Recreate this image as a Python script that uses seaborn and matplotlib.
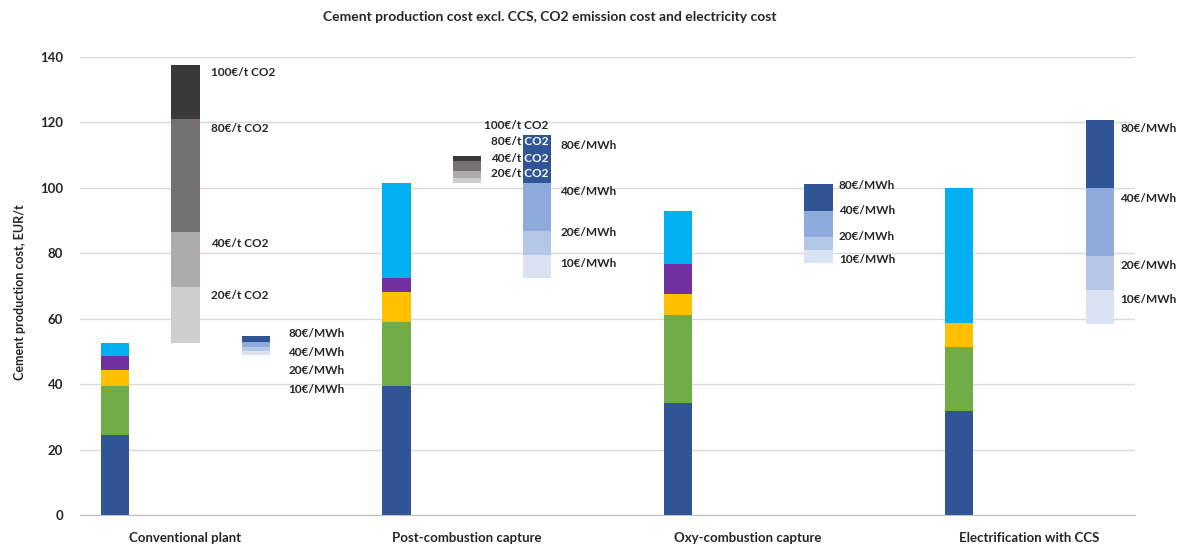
import numpy as np
import matplotlib
matplotlib.use('Agg')
import matplotlib.pyplot as plt
import seaborn as sns

# categories and slot positions on the category axis (15 slots)
categories = ['Conventional plant', 'Post-combustion capture',
              'Oxy-combustion capture', 'Electrification with CCS']
cat_pos = [1, 5, 9, 13]

# stacked production cost bars (EUR/t), one value per route
stack_pos = [0, 4, 8, 12]
seg_blue = [24.3, 39.5, 34.1, 31.9]
seg_green = [15.0, 19.5, 26.9, 19.3]
seg_yellow = [4.9, 9.0, 6.4, 7.3]
seg_purple = [4.5, 4.3, 9.4, 0.0]
seg_cyan = [3.9, 29.2, 16.1, 41.5]

# CO2 emission cost bars: base and top of each price level
co2_pos = [1, 5]
co2_base = [52.6, 101.5]
co2_prices = ['20€/t CO2', '40€/t CO2', '80€/t CO2', '100€/t CO2']
co2_tops = [[69.6, 86.6, 121.0, 137.6],
            [103.0, 105.0, 108.2, 109.7]]

# electricity cost bars: base and top of each price level
el_pos = [2, 6, 10, 14]
el_base = [48.8, 72.3, 76.9, 58.4]
el_prices = ['10€/MWh', '20€/MWh', '40€/MWh', '80€/MWh']
el_tops = [[50.0, 51.2, 52.9, 54.6],
           [79.4, 86.8, 101.5, 116.0],
           [80.9, 84.9, 92.9, 101.0],
           [68.7, 79.2, 100.0, 120.7]]

# label placement (data units)
co2_label_x = [1.36, 6.155]
co2_label_ha = ['left', 'right']
co2_label_y = [[67.0, 83.0, 118.0, 135.3],
               [104.2, 109.0, 114.2, 119.1]]
el_label_x = [2.46, 6.33, 10.29, 14.29]
el_label_y = [[38.4, 44.1, 49.6, 55.3],
              [76.7, 86.4, 98.7, 113.0],
              [78.2, 85.2, 92.9, 100.8],
              [65.7, 76.1, 96.8, 118.2]]

stack_colors = ['#2F5597', '#70AD47', '#FFC000', '#7030A0', '#00B0F0']
co2_colors = ['#D0CECE', '#AFABAB', '#767171', '#3B3838']
el_colors = ['#DAE3F3', '#B4C7E7', '#8FAADC', '#2F5597']

sns.set_style('white')
plt.rcParams['font.family'] = ['Lato', 'DejaVu Sans']
plt.rcParams['font.weight'] = 'bold'

fig = plt.figure(figsize=(11.84, 5.45), dpi=100)
ax = fig.add_axes([80/1184, 30/545, 1055/1184, 458.3/545])
ax.set_axisbelow(True)
bw = 0.4

# stacked cost bars
bottom = np.zeros(len(stack_pos))
for seg, col in zip([seg_blue, seg_green, seg_yellow, seg_purple, seg_cyan], stack_colors):
    seg = np.array(seg)
    ax.bar(stack_pos, seg, bottom=bottom, width=bw, color=col, linewidth=0, zorder=2)
    bottom += seg

# CO2 cost bars
for i, x in enumerate(co2_pos):
    prev = co2_base[i]
    for j, top in enumerate(co2_tops[i]):
        ax.bar(x, top - prev, bottom=prev, width=bw, color=co2_colors[j], linewidth=0, zorder=2)
        prev = top
    for j, lab in enumerate(co2_prices):
        ax.text(co2_label_x[i], co2_label_y[i][j], lab, ha=co2_label_ha[i], va='center',
                fontsize=8.5, fontweight='bold', color='#262626', zorder=1.5)

# electricity cost bars
el_patches = []
for i, x in enumerate(el_pos):
    prev = el_base[i]
    for j, top in enumerate(el_tops[i]):
        bars = ax.bar(x, top - prev, bottom=prev, width=bw, color=el_colors[j], linewidth=0, zorder=2)
        prev = top
    el_patches.append(bars.patches[0])
    for j, lab in enumerate(el_prices):
        ax.text(el_label_x[i], el_label_y[i][j], lab, ha='left', va='center',
                fontsize=8.5, fontweight='bold', color='#262626', zorder=3)

# CO2 labels of the post-combustion bar run into the electricity bar: white there
for j, lab in enumerate(co2_prices):
    t = ax.text(co2_label_x[1], co2_label_y[1][j], lab, ha='right', va='center',
                fontsize=8.5, fontweight='bold', color='white', zorder=4)
    t.set_clip_path(el_patches[1])
    t.set_clip_on(True)

ax.set_xlim(-0.5, 14.5)
ax.set_ylim(0, 140)
ax.set_yticks(np.arange(0, 141, 20))
ax.set_yticklabels([str(v) for v in range(0, 141, 20)], fontsize=9.5, fontweight='bold')
ax.yaxis.grid(True, color='#D9D9D9', linewidth=1)
ax.tick_params(axis='y', length=0, pad=12, colors='#262626')

ax.set_xticks(cat_pos)
ax.set_xticklabels(categories, fontsize=9.5, fontweight='bold')
ax.set_xticks(np.arange(-0.5, 15, 1), minor=True)
ax.tick_params(axis='x', which='major', length=0, pad=12, colors='#262626')
ax.tick_params(axis='x', which='minor', length=4, color='#BFBFBF', width=1)

for s in ['left', 'right', 'top']:
    ax.spines[s].set_visible(False)
ax.spines['bottom'].set_color('#BFBFBF')

fig.text(20/1184, 253/545, 'Cement production cost, EUR/t', rotation=90,
         ha='center', va='center', fontsize=9, fontweight='bold', color='#262626')
fig.text(550/1184, 1 - 17/545,
         'Cement production cost excl. CCS, CO2 emission cost and electricity cost',
         ha='center', va='center', fontsize=10, fontweight='bold', color='#262626')

fig.savefig('out.png', dpi=100)
